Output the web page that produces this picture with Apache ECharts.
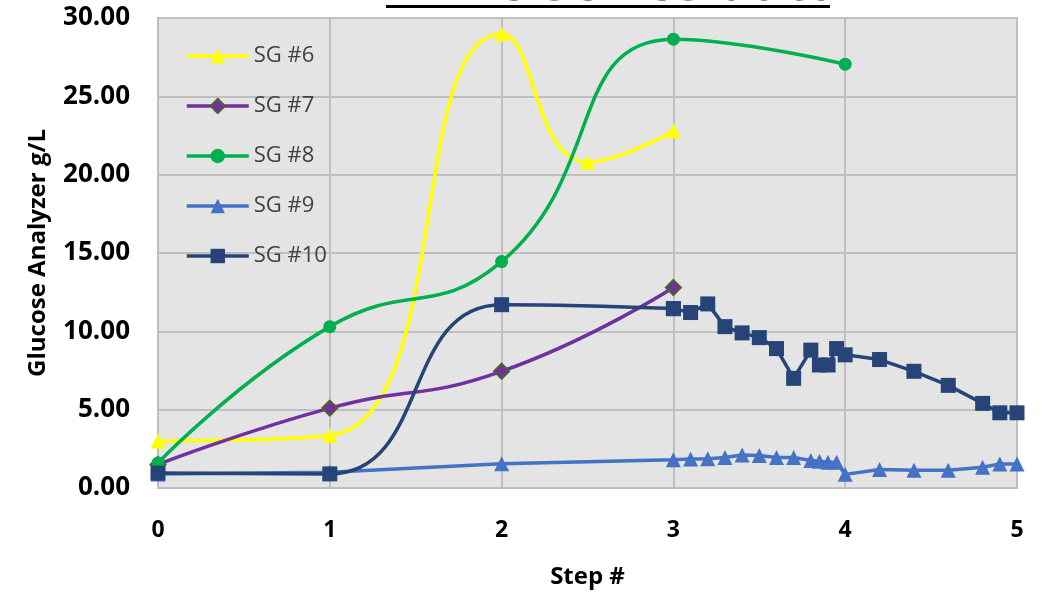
<!DOCTYPE html>
<html>
<head>
<meta charset="utf-8">
<script src="https://cdn.jsdelivr.net/npm/echarts@6/dist/echarts.min.js"></script>
<style>
html,body{margin:0;padding:0;background:#fff;}
#chart{width:1043px;height:594px;}
</style>
</head>
<body>
<div id="chart"></div>
<script>
// ---- data ----
const titleText = 'Time series data';
const seriesNames = ['SG #6', 'SG #7', 'SG #8', 'SG #9', 'SG #10'];
const xTicks = [0, 1, 2, 3, 4, 5];
const yTicks = [0, 5, 10, 15, 20, 25, 30];

const sg6X = [0, 1, 2, 2.5, 3];
const sg6Y = [3.0, 3.35, 29.0, 20.8, 22.8];

const sg7X = [0, 1, 2, 3];
const sg7Y = [1.5, 5.1, 7.45, 12.8];

const sg8X = [0, 1, 2, 3, 4];
const sg8Y = [1.6, 10.3, 14.45, 28.65, 27.05];

const sg9X = [0, 1, 2, 3, 3.1, 3.2, 3.3, 3.4, 3.5, 3.6, 3.7, 3.8, 3.85, 3.9, 3.95, 4, 4.2, 4.4, 4.6, 4.8, 4.9, 5];
const sg9Y = [0.9, 1.0, 1.55, 1.8, 1.85, 1.87, 1.95, 2.1, 2.08, 1.95, 1.95, 1.75, 1.7, 1.65, 1.65, 0.87, 1.18, 1.14, 1.14, 1.33, 1.53, 1.53];

const sg10X = [0, 1, 2, 3, 3.1, 3.2, 3.3, 3.4, 3.5, 3.6, 3.7, 3.8, 3.85, 3.9, 3.95, 4, 4.2, 4.4, 4.6, 4.8, 4.9, 5];
const sg10Y = [0.95, 0.9, 11.7, 11.45, 11.2, 11.75, 10.3, 9.9, 9.6, 8.9, 7.0, 8.8, 7.85, 7.85, 8.9, 8.5, 8.2, 7.45, 6.55, 5.4, 4.8, 4.8];

const pairs = (xs, ys) => xs.map((x, i) => [x, ys[i]]);

const colors = {
  sg6: '#ffff00', sg7: '#7030a0', sg7Border: '#4f6228',
  sg8: '#00b050', sg9: '#4472c4', sg10: '#264478'
};
const lw = 3.5;

const chart = echarts.init(document.getElementById('chart'), null, {renderer: 'canvas'});
const sg10All = pairs(sg10X, sg10Y);

chart.setOption({
  animation: false,
  backgroundColor: '#ffffff',
  title: {
    text: titleText,
    left: 392,
    top: -43,
    padding: 0,
    textStyle: {fontFamily: 'Open Sans', fontWeight: 'bold', fontSize: 55, color: '#000'}
  },
  graphic: [{
    type: 'rect',
    shape: {x: 386, y: 5, width: 444, height: 3},
    style: {fill: '#000'}
  }],
  grid: {
    left: 158, right: 26, top: 18, bottom: 100,
    show: true, backgroundColor: '#e4e4e4', borderColor: '#bfbfbf', borderWidth: 2
  },
  legend: {
    orient: 'vertical',
    left: 185, top: 45,
    padding: 0,
    itemWidth: 62, itemHeight: 18, itemGap: 28,
    data: seriesNames,
    lineStyle: {width: 3.5},
    textStyle: {fontFamily: 'Open Sans', fontSize: 22, color: '#404040'}
  },
  xAxis: {
    type: 'value', min: 0, max: 5, interval: 1,
    name: 'Step #', nameLocation: 'middle', nameGap: 77,
    nameTextStyle: {fontFamily: 'Open Sans', fontWeight: 'bold', fontSize: 24, color: '#000'},
    axisLine: {show: false}, axisTick: {show: false},
    axisLabel: {margin: 31, fontFamily: 'Open Sans', fontWeight: 'bold', fontSize: 23, color: '#000',
      formatter: v => xTicks.includes(v) ? String(v) : ''},
    splitLine: {show: true, lineStyle: {color: '#bfbfbf', width: 2}}
  },
  yAxis: {
    type: 'value', min: 0, max: 30, interval: 5,
    name: 'Glucose Analyzer g/L', nameLocation: 'middle', nameGap: 108,
    nameTextStyle: {fontFamily: 'Open Sans', fontWeight: 'bold', fontSize: 24, color: '#000'},
    axisLine: {show: false}, axisTick: {show: false},
    axisLabel: {margin: 28, fontFamily: 'Open Sans', fontWeight: 'bold', fontSize: 26, color: '#000',
      formatter: v => yTicks.includes(v) ? v.toFixed(2) : ''},
    splitLine: {show: true, lineStyle: {color: '#bfbfbf', width: 2}}
  },
  series: [
    {
      name: 'SG #6', type: 'line', smooth: 0.5, data: pairs(sg6X, sg6Y),
      symbol: 'triangle', symbolSize: 15,
      itemStyle: {color: colors.sg6}, lineStyle: {color: colors.sg6, width: lw}
    },
    {
      name: 'SG #7', type: 'line', smooth: 0.5, data: pairs(sg7X, sg7Y),
      symbol: 'diamond', symbolSize: 15,
      itemStyle: {color: colors.sg7, borderColor: colors.sg7Border, borderWidth: 2},
      lineStyle: {color: colors.sg7, width: lw}
    },
    {
      name: 'SG #8', type: 'line', smooth: 0.5, data: pairs(sg8X, sg8Y),
      symbol: 'circle', symbolSize: 13,
      itemStyle: {color: colors.sg8}, lineStyle: {color: colors.sg8, width: lw}
    },
    {
      name: 'SG #9', type: 'line', smooth: false, data: pairs(sg9X, sg9Y),
      symbol: 'triangle', symbolSize: 15,
      itemStyle: {color: colors.sg9}, lineStyle: {color: colors.sg9, width: lw}
    },
    {
      name: 'SG #10', type: 'line', smooth: 0.5, data: sg10All.slice(0, 4),
      symbol: 'rect', symbolSize: 15,
      itemStyle: {color: colors.sg10}, lineStyle: {color: colors.sg10, width: lw}
    },
    {
      name: 'SG #10', type: 'line', smooth: false, data: sg10All.slice(3),
      symbol: 'rect', symbolSize: 15,
      itemStyle: {color: colors.sg10}, lineStyle: {color: colors.sg10, width: lw}
    }
  ]
});
</script>
</body>
</html>
